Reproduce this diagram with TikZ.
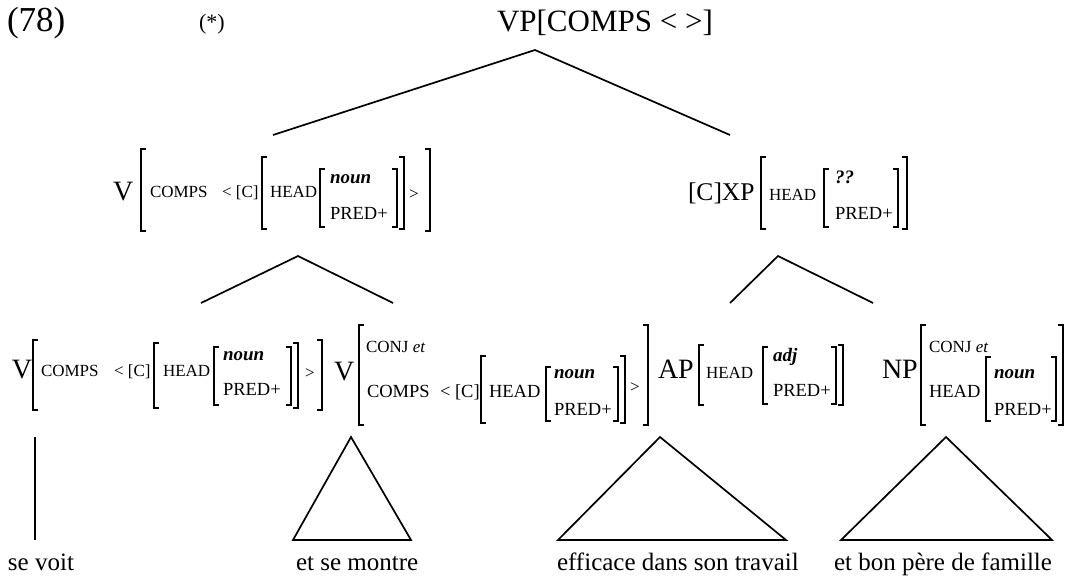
\documentclass[tikz,border=0pt]{standalone}
\usepackage{fontspec}
\setmainfont{Liberation Serif}
\newcommand\fs[1]{\fontsize{#1}{#1}\selectfont}
\newcommand\lbr[3]{\draw[brk] (#1+5,#2) -- (#1,#2) -- (#1,#3) -- (#1+5,#3);}
\newcommand\rbr[3]{\draw[brk] (#1-5,#2) -- (#1,#2) -- (#1,#3) -- (#1-5,#3);}
\begin{document}
\begin{tikzpicture}[x=1pt,y=-1pt,
  lbl/.style={anchor=base west,inner sep=0pt,outer sep=0pt},
  toptxt/.style={lbl,font=\fs{31}},
  numtxt/.style={lbl,font=\fs{35}},
  startxt/.style={lbl,font=\fs{22}},
  cat/.style={lbl,font=\fs{28}},
  feat/.style={lbl,font=\fs{17}},
  featb/.style={lbl,font=\fs{18.5}},
  val/.style={lbl,font=\fs{19}\bfseries\itshape},
  word/.style={lbl,font=\fs{25}},
  brk/.style={line width=1.4pt},
  tree/.style={line width=1.7pt,line join=miter}]
\useasboundingbox[fill=white] (0,0) rectangle (1077,576);
% top row
\node[numtxt] (n78) at (7,31) {(78)};
\node[startxt] (star) at (199,29) {(*)};
\node[toptxt] (vp) at (497,31) {VP[COMPS < >]};
\coordinate (tA) at (535,50);
\coordinate (tL) at (273,135);
\coordinate (tR) at (730,135);
\draw[tree] (tL) -- (tA) -- (tR);
% row 2: V
\node[cat] (v2) at (113,200) {V};
\lbr{141}{149}{231}\rbr{430}{149}{231}
\node[feat] (v2c) at (150,197) {COMPS};
\node[feat] (v2cc) at (222,197) {< [C]};
\lbr{262}{157}{229}\rbr{404}{157}{229}
\node[feat] (v2h) at (270,197) {HEAD};
\lbr{320}{169}{227}\rbr{397}{169}{227}
\node[val] (v2n) at (330,183) {noun};
\node[featb] (v2p) at (330,219) {PRED+};
\node[feat] (v2g) at (409,199) {>};
% row 2: XP
\node[lbl,font=\fs{25.5}] (xp) at (688,200) {[C]XP};
\lbr{761}{157}{229}\rbr{907}{157}{229}
\node[feat] (xph) at (769,200) {HEAD};
\lbr{824}{169}{227}\rbr{898}{169}{227}
\node[val] (xpq) at (835,183) {??};
\node[featb] (xpp) at (835,219) {PRED+};
% lower trees of row 2
\coordinate (vA) at (298,256);
\coordinate (vL) at (201,303);
\coordinate (vR) at (393,303);
\draw[tree] (vL) -- (vA) -- (vR);
\coordinate (xA) at (778,256);
\coordinate (xL) at (730,303);
\coordinate (xR) at (873,303);
\draw[tree] (xL) -- (xA) -- (xR);
% row 3: V1
\node[cat] (v3) at (12,378) {V};
\lbr{33}{340}{410}\rbr{322}{340}{410}
\node[feat] (v3c) at (41,376) {COMPS};
\node[feat] (v3cc) at (114,376) {< [C]};
\lbr{154}{343}{408}\rbr{298}{343}{408}
\node[feat] (v3h) at (163,376) {HEAD};
\lbr{214}{347}{405}\rbr{291}{347}{405}
\node[val] (v3n) at (223,360) {noun};
\node[featb] (v3p) at (223,395) {PRED+};
\node[feat] (v3g) at (305,378) {>};
% row 3: V2
\node[cat] (w3) at (334,380) {V};
\lbr{359}{325}{425}\rbr{648}{325}{425}
\node[feat] (w3j) at (366,352) {CONJ \textit{et}};
\node[featb] (w3c) at (367,397) {COMPS};
\node[featb] (w3cc) at (440,397) {< [C]};
\lbr{481}{356}{423}\rbr{625}{356}{423}
\node[featb] (w3h) at (489,397) {HEAD};
\lbr{546}{367}{421}\rbr{618}{367}{421}
\node[val] (w3n) at (554,378) {noun};
\node[featb] (w3p) at (554,415) {PRED+};
\node[feat] (w3g) at (630,392) {>};
% row 3: AP
\node[cat] (ap) at (658,378) {AP};
\lbr{699}{345}{405}\rbr{843}{345}{405}
\node[feat] (aph) at (706,378) {HEAD};
\lbr{763}{347}{404}\rbr{836}{347}{404}
\node[val] (apa) at (773,361) {adj};
\node[featb] (app) at (773,396) {PRED+};
% row 3: NP
\node[cat] (np) at (882,378) {NP};
\lbr{921}{325}{425}\rbr{1063}{325}{425}
\node[feat] (npj) at (929,352) {CONJ \textit{et}};
\node[featb] (nph) at (929,397) {HEAD};
\lbr{986}{357}{421}\rbr{1056}{357}{421}
\node[val] (npn) at (994,378) {noun};
\node[featb] (npp) at (994,415) {PRED+};
% lower trees of row 3
\coordinate (s1T) at (35,437);
\coordinate (s1B) at (35,540);
\draw[tree] (s1T) -- (s1B);
\coordinate (s2A) at (351,437);
\coordinate (s2L) at (293,540);
\coordinate (s2R) at (411,540);
\draw[tree] (s2L) -- (s2A) -- (s2R) -- cycle;
\coordinate (s3A) at (660,437);
\coordinate (s3L) at (558,540);
\coordinate (s3R) at (786,540);
\draw[tree] (s3L) -- (s3A) -- (s3R) -- cycle;
\coordinate (s4A) at (946,437);
\coordinate (s4L) at (841,540);
\coordinate (s4R) at (1052,540);
\draw[tree] (s4L) -- (s4A) -- (s4R) -- cycle;
% words
\node[word] (w1) at (8,570) {se voit};
\node[word] (w2) at (296,570) {et se montre};
\node[word] (w3) at (557,570) {efficace dans son travail};
\node[word] (w4) at (834,570) {et bon père de famille};
\end{tikzpicture}
\end{document}
